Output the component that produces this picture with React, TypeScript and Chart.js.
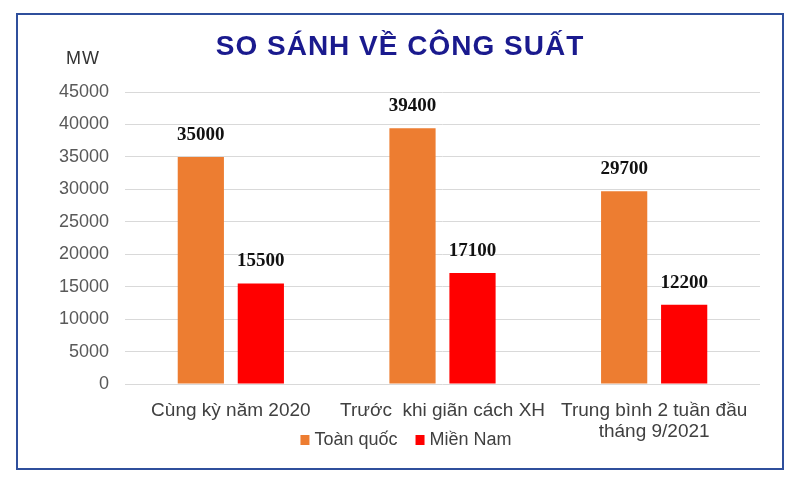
import { useEffect, useRef } from 'react';
import { Chart, registerables } from 'chart.js';

Chart.register(...registerables);

const chartTitle = 'SO SÁNH VỀ CÔNG SUẤT';
const unitLabel = 'MW';
const categories: string[][] = [
  ['Cùng kỳ năm 2020'],
  ['Trước  khi giãn cách XH'],
  ['Trung bình 2 tuần đầu', 'tháng 9/2021'],
];
const seriesNames = ['Toàn quốc', 'Miền Nam'];
const toanQuoc = [35000, 39400, 29700];
const mienNam = [15500, 17100, 12200];
const yMin = 0;
const yMax = 45000;
const yStep = 5000;

const colors = ['#ED7D31', '#FF0000'];

const decorPlugin = {
  id: 'decor',
  beforeDraw(chart: any) {
    const { ctx, width, height } = chart;
    ctx.save();
    ctx.fillStyle = '#ffffff';
    ctx.fillRect(0, 0, width, height);
    ctx.strokeStyle = '#2f4f9c';
    ctx.lineWidth = 2;
    ctx.strokeRect(17, 14, 766, 455);
    ctx.restore();
  },
  afterDatasetsDraw(chart: any) {
    const { ctx } = chart;
    ctx.save();
    ctx.font = 'bold 19px "Liberation Serif", "Times New Roman", serif';
    ctx.fillStyle = '#111111';
    ctx.textAlign = 'center';
    ctx.textBaseline = 'middle';
    chart.data.datasets.forEach((ds: any, i: number) => {
      const meta = chart.getDatasetMeta(i);
      meta.data.forEach((el: any, j: number) => {
        ctx.fillText(String(ds.data[j]), el.x, el.y - 22);
      });
    });
    ctx.restore();
  },
  afterDraw(chart: any) {
    const { ctx, width } = chart;
    ctx.save();
    // Title
    ctx.font = 'bold 28px "Liberation Sans", Arial, sans-serif';
    (ctx as any).letterSpacing = '1px';
    ctx.fillStyle = '#1a1a8e';
    ctx.textAlign = 'center';
    ctx.textBaseline = 'middle';
    ctx.fillText(chartTitle, width / 2, 47);
    // Unit
    ctx.font = '18px "Liberation Sans", Arial, sans-serif';
    (ctx as any).letterSpacing = '1px';
    ctx.fillStyle = '#333333';
    ctx.fillText(unitLabel, 83, 59);
    (ctx as any).letterSpacing = '0px';
    // Legend
    ctx.font = '18px "Liberation Sans", Arial, sans-serif';
    ctx.textAlign = 'left';
    const box = 9;
    const gapBoxText = 5;
    const gapItems = 18;
    const items = chart.data.datasets.map((ds: any) => ({
      label: ds.label,
      color: ds.backgroundColor,
      w: ctx.measureText(ds.label).width,
    }));
    let total = 0;
    items.forEach((it: any, i: number) => {
      total += box + gapBoxText + it.w + (i < items.length - 1 ? gapItems : 0);
    });
    let x = width / 2 + 6 - total / 2;
    const cy = 440;
    items.forEach((it: any) => {
      ctx.fillStyle = it.color;
      ctx.fillRect(x, cy - 5, box, 10);
      ctx.fillStyle = '#404040';
      ctx.fillText(it.label, x + box + gapBoxText, cy);
      x += box + gapBoxText + it.w + gapItems;
    });
    ctx.restore();
  },
};

export default function App() {
  const canvasRef = useRef<HTMLCanvasElement | null>(null);

  useEffect(() => {
    if (!canvasRef.current) return;
    const chart = new Chart(canvasRef.current, {
      type: 'bar',
      data: {
        labels: categories,
        datasets: [
          {
            label: seriesNames[0],
            data: toanQuoc,
            backgroundColor: colors[0],
            categoryPercentage: 0.567,
            barPercentage: 0.77,
          },
          {
            label: seriesNames[1],
            data: mienNam,
            backgroundColor: colors[1],
            categoryPercentage: 0.567,
            barPercentage: 0.77,
          },
        ],
      },
      options: {
        animation: false,
        responsive: true,
        maintainAspectRatio: false,
        layout: { padding: { left: 0, top: 92, right: 40, bottom: 0 } },
        plugins: {
          legend: { display: false },
          title: { display: false },
          tooltip: { enabled: false },
        },
        scales: {
          x: {
            grid: { display: false },
            border: { display: false },
            ticks: {
              color: '#404040',
              font: { family: '"Liberation Sans", Arial, sans-serif', size: 19, lineHeight: 1.1 },
              padding: 8,
              maxRotation: 0,
              autoSkip: false,
            },
            afterFit(scale: any) {
              scale.height = 101;
            },
          },
          y: {
            min: yMin,
            max: yMax,
            grid: { color: '#d9d9d9', drawTicks: false },
            border: { display: false },
            ticks: {
              stepSize: yStep,
              color: '#595959',
              font: { family: '"Liberation Sans", Arial, sans-serif', size: 18 },
              padding: 16,
              callback: (v: any) => String(v),
            },
            afterFit(scale: any) {
              scale.width = 125;
            },
          },
        },
      },
      plugins: [decorPlugin],
    });
    return () => chart.destroy();
  }, []);

  return (
    <div style={{ position: 'fixed', left: 0, top: 0, width: 800, height: 485, background: '#fff' }}>
      <canvas ref={canvasRef} />
    </div>
  );
}
